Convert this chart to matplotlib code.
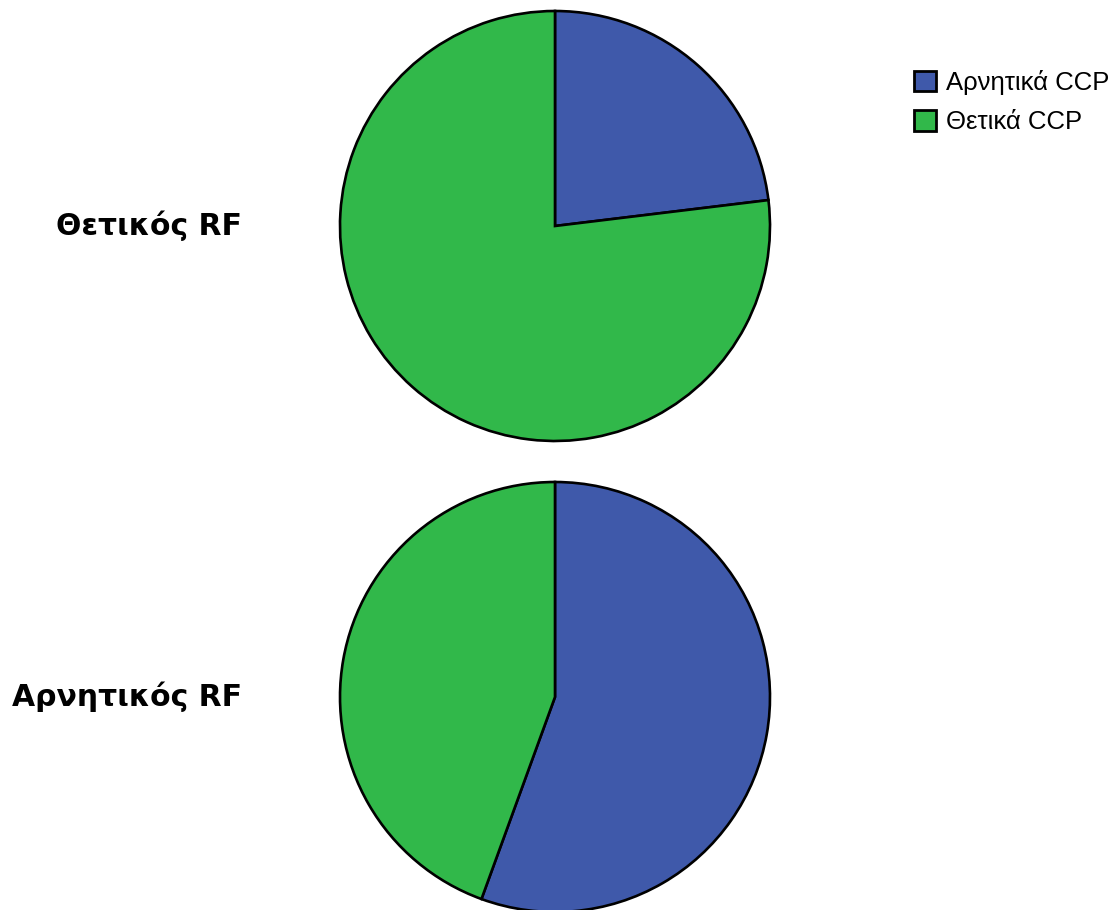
import matplotlib
matplotlib.use("Agg")
import matplotlib.pyplot as plt
from matplotlib.patches import Patch

# counts per group (Αρνητικά CCP, Θετικά CCP)
series_names = ["Αρνητικά CCP", "Θετικά CCP"]
row_labels = ["Θετικός RF", "Αρνητικός RF"]
positive_rf = [3, 10]
negative_rf = [5, 4]

COLORS = ["#3F59AA", "#31B84A"]

fig = plt.figure(figsize=(11.14, 9.10), dpi=100)
W, H = 1114, 910


def pie_axes(cx, cy, r):
    return fig.add_axes([(cx - r) / W, (H - cy - r) / H, 2 * r / W, 2 * r / H])


for values, label, cy in [(positive_rf, row_labels[0], 226), (negative_rf, row_labels[1], 697)]:
    ax = pie_axes(555, cy, 215)
    ax.pie(values, colors=COLORS, startangle=90, counterclock=False, radius=1,
           wedgeprops=dict(edgecolor="black", linewidth=1.9))
    ax.set_xlim(-1.0, 1.0)
    ax.set_ylim(-1.0, 1.0)
    ax.set_aspect("equal")
    ax.axis("off")
    fig.text(242 / W, 1 - cy / H, label, ha="right", va="center",
             fontsize=21.5, fontweight="bold", family=["DejaVu Sans"])

handles = [Patch(facecolor=c, edgecolor="black", linewidth=2.0) for c in COLORS]
fig.legend(handles, series_names, loc="upper left", bbox_to_anchor=(891 / W, 1 - 47 / H),
           frameon=False, prop={"family": "Liberation Sans", "size": 18.5},
           handlelength=0.85, handleheight=0.85, handletextpad=0.4, labelspacing=0.58)

fig.savefig("out.png", dpi=100, facecolor="white")
